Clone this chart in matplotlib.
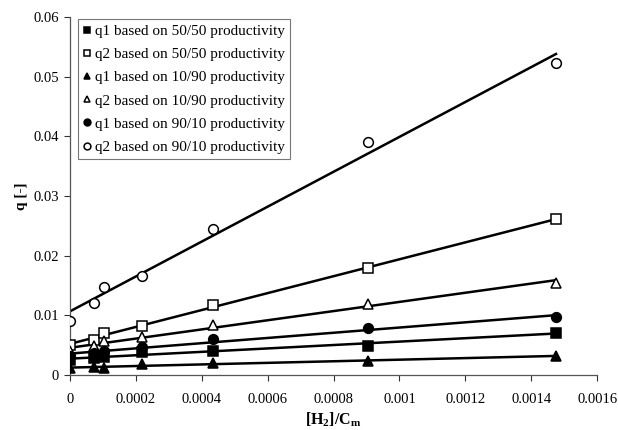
import numpy as np
import matplotlib
matplotlib.use("Agg")
import matplotlib.pyplot as plt

plt.rcParams['font.family'] = ['Liberation Serif', 'DejaVu Serif']
plt.rcParams['mathtext.fontset'] = 'custom'
plt.rcParams['mathtext.rm'] = 'Liberation Serif'
plt.rcParams['mathtext.bf'] = 'Liberation Serif:bold'

x = [0.0, 0.000073, 0.000103, 0.000218, 0.000433, 0.000904, 0.001475]

q1_5050 = [0.0025, 0.0028, 0.0030, 0.0039, 0.0041, 0.0049, 0.0071]
q2_5050 = [0.0050, 0.0059, 0.0071, 0.0082, 0.0118, 0.0179, 0.0261]
q1_1090 = [0.0012, 0.0013, 0.0011, 0.0018, 0.0020, 0.0023, 0.0032]
q2_1090 = [0.0040, 0.0048, 0.0057, 0.0063, 0.0084, 0.0119, 0.0155]
q1_9010 = [0.0032, 0.0037, 0.0040, 0.0047, 0.0060, 0.0078, 0.0097]
q2_9010 = [0.0091, 0.0121, 0.0148, 0.0166, 0.0245, 0.0391, 0.0523]

labels = ["q1 based on 50/50 productivity",
          "q2 based on 50/50 productivity",
          "q1 based on 10/90 productivity",
          "q2 based on 10/90 productivity",
          "q1 based on 90/10 productivity",
          "q2 based on 90/10 productivity"]

series = [q1_5050, q2_5050, q1_1090, q2_1090, q1_9010, q2_9010]
markers = ['s', 's', '^', '^', 'o', 'o']
filled = [True, False, True, False, True, False]

fig = plt.figure(figsize=(6.18, 4.30), dpi=100)
ax = fig.add_axes([0.1133, 0.128, 0.853, 0.832])

xa = np.array(x)
xl = np.array([xa.min(), xa.max()])
for s, m, f, lab in zip(series, markers, filled, labels):
    ya = np.array(s)
    p = np.polyfit(xa, ya, 1)
    ax.plot(xl, np.polyval(p, xl), color='black', lw=1.8, zorder=2)
    ax.plot(xa, ya, linestyle='none', marker=m, markersize=6.5 if m != 'o' else 7,
            markerfacecolor='black' if f else 'white', markeredgecolor='black',
            markeredgewidth=1.1, label=lab, zorder=3)

ax.set_xlim(0, 0.0016)
ax.set_ylim(0, 0.06)
ax.set_xticks(np.arange(0, 0.00161, 0.0002))
ax.set_xticklabels(['0', '0.0002', '0.0004', '0.0006', '0.0008', '0.001',
                    '0.0012', '0.0014', '0.0016'])
ax.set_yticks(np.arange(0, 0.061, 0.01))
ax.set_yticklabels(['0', '0.01', '0.02', '0.03', '0.04', '0.05', '0.06'])

for sp in ['top', 'right']:
    ax.spines[sp].set_visible(False)
for sp in ['left', 'bottom']:
    ax.spines[sp].set_color('#555555')
    ax.spines[sp].set_linewidth(0.9)
ax.tick_params(axis='both', labelsize=10.5, colors='#333333', labelcolor='black',
               direction='out', length=4, width=0.8)
ax.tick_params(axis='x', pad=9)
ax.tick_params(axis='y', pad=4)

ax.set_xlabel(r'$\mathbf{[H_2]/C_m}$', fontsize=11.5)
ax.xaxis.set_label_coords(0.5, -0.1)
ax.set_ylabel('q [-]', fontsize=11, fontweight='bold', labelpad=4)

leg = ax.legend(loc='upper left', bbox_to_anchor=(0.015, 0.995), fontsize=11,
                frameon=True, fancybox=False, edgecolor='#555555',
                handlelength=0.5, handletextpad=0.25, borderpad=0.35,
                labelspacing=0.62, markerscale=0.7, borderaxespad=0)
leg.get_frame().set_linewidth(0.8)

fig.savefig('out.png', dpi=100)
